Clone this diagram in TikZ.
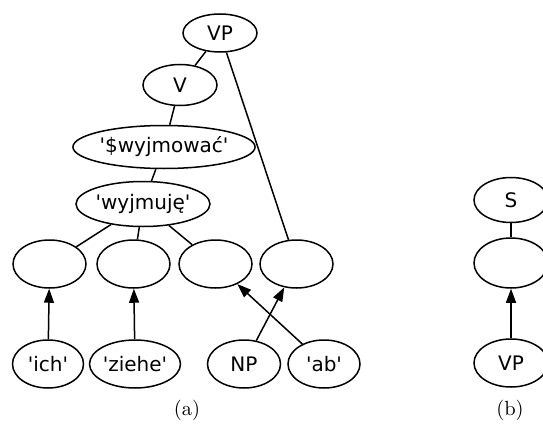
\documentclass[tikz,border=0pt]{standalone}
\usepackage{fontspec}
\newfontfamily\nodefont{DejaVu Sans}
\usetikzlibrary{shapes.geometric,arrows.meta}
\tikzset{
  el/.style={draw, ellipse, line width=1.5pt, inner sep=0pt, font=\nodefont\fontsize{20}{24}\selectfont},
  edge/.style={line width=1.5pt},
  arr/.style={line width=1.5pt, -{Triangle[length=14pt,width=10pt]}},
  captext/.style={inner sep=0pt}
}
\newcommand{\captxt}[1]{\scalebox{2.05}{#1}}
\begin{document}
\begin{tikzpicture}[x=1pt,y=-1pt]
\useasboundingbox (0,0) rectangle (543,428);
% (a)
\node[el, minimum width=74pt, minimum height=38pt] (vp) at (220,33) {VP};
\node[el, minimum width=74pt, minimum height=41pt] (v) at (180,85) {V};
\node[el, minimum width=132pt, minimum height=43pt] (lem) at (164,147) {'\$wyjmować'};
\node[el, minimum width=110pt, minimum height=45pt] (form) at (143,204) {'wyjmuję'};
\node[el, minimum width=73pt, minimum height=48pt] (e1) at (49.5,264) {};
\node[el, minimum width=73pt, minimum height=48pt] (e2) at (133.5,264) {};
\node[el, minimum width=73pt, minimum height=48pt] (e3) at (215.5,264) {};
\node[el, minimum width=73pt, minimum height=48pt] (e4) at (296.5,264) {};
\node[el, minimum width=71pt, minimum height=48pt] (ich) at (48,364) {'ich'};
\node[el, minimum width=84pt, minimum height=48pt] (ziehe) at (135,364) {'ziehe'};
\node[el, minimum width=73pt, minimum height=48pt] (np) at (244,364) {NP};
\node[el, minimum width=72pt, minimum height=48pt] (ab) at (324,364) {'ab'};
\draw[edge] (vp) -- (v);
\draw[edge] (vp) -- (e4);
\draw[edge] (v) -- (lem);
\draw[edge] (lem) -- (form);
\draw[edge] (form) -- (e1);
\draw[edge] (form) -- (e2);
\draw[edge] (form) -- (e3);
\draw[arr] (ich) -- (e1);
\draw[arr] (ziehe) -- (e2);
\draw[arr] (np) -- (e4);
\draw[arr] (ab) -- (e3);
\node[captext] (capa) at (187,410) {\captxt{(a)}};
% (b)
\node[el, minimum width=74pt, minimum height=45pt] (s) at (511,200) {S};
\node[el, minimum width=74pt, minimum height=50pt] (bm) at (511,263) {};
\node[el, minimum width=74pt, minimum height=48pt] (bvp) at (511,363) {VP};
\draw[edge] (s) -- (bm);
\draw[arr] (bvp) -- (bm);
\node[captext] (capb) at (510,410) {\captxt{(b)}};
\end{tikzpicture}
\end{document}
